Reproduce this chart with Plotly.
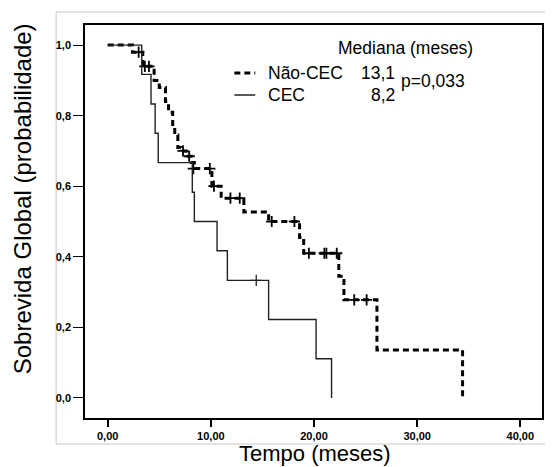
import plotly.graph_objects as go

# Kaplan-Meier steps: (event time, survival after the event)
nao_cec_times = [2.4, 3.4, 4.5, 5.0, 5.6, 5.9, 6.3, 6.5, 6.8, 7.1, 7.6, 8.1, 8.4,
                 10.1, 11.0, 13.2, 15.6, 18.6, 19.0, 22.4, 22.9, 26.1, 34.4]
nao_cec_surv = [0.98, 0.94, 0.90, 0.88, 0.84, 0.81, 0.77, 0.745, 0.71, 0.70, 0.685, 0.667, 0.65,
                0.60, 0.566, 0.527, 0.50, 0.455, 0.41, 0.345, 0.278, 0.136, 0.0]
nao_cec_cens_t = [3.0, 3.6, 4.0, 7.3, 7.9, 8.3, 9.9, 10.3, 11.9, 12.8, 15.9, 18.1,
                  19.5, 21.0, 21.2, 22.2, 23.9, 25.1]
nao_cec_cens_s = [0.98, 0.94, 0.94, 0.70, 0.685, 0.65, 0.65, 0.60, 0.566, 0.566, 0.50, 0.50,
                  0.41, 0.41, 0.41, 0.41, 0.278, 0.278]

cec_times = [3.3, 4.2, 4.6, 4.9, 8.2, 8.4, 10.6, 11.6, 15.6, 20.2, 21.7]
cec_surv = [0.917, 0.833, 0.75, 0.667, 0.583, 0.5, 0.417, 0.333, 0.222, 0.111, 0.0]
cec_cens_t = [14.4]
cec_cens_s = [0.333]

groups = ['Não-CEC', 'CEC']
medians = ['13,1', '8,2']
p_value = 'p=0,033'

x_ticks = [0, 10, 20, 30, 40]
x_ticktext = ['0,00', '10,00', '20,00', '30,00', '40,00']
y_ticks = [0, 0.2, 0.4, 0.6, 0.8, 1.0]
y_ticktext = ['0,0', '0,2', '0,4', '0,6', '0,8', '1,0']

# the page puts the figure 8px in from the top-left corner, so the figure is
# smaller than the window and everything below is laid out in window pixels
OFF = 8
W, H = 553 - OFF, 467 - OFF
L, R, T, B = 85 - OFF, 9, 25 - OFF, 49
FONT = 'Arial, Liberation Sans, sans-serif'


def px(x, y):
    # window pixel position -> paper coordinates
    x, y = x - OFF, y - OFF
    return (x - L) / (W - L - R), (H - B - y) / (H - T - B)


fig = go.Figure()

fig.add_trace(go.Scatter(x=[0] + nao_cec_times, y=[1.0] + nao_cec_surv, mode='lines',
                         line=dict(color='black', width=3, dash='6px,4px', shape='hv'),
                         name=groups[0]))
fig.add_trace(go.Scatter(x=nao_cec_cens_t, y=nao_cec_cens_s, mode='markers',
                         marker=dict(symbol='cross-thin', size=8, line=dict(color='black', width=1.8)),
                         showlegend=False))
fig.add_trace(go.Scatter(x=[0] + cec_times, y=[1.0] + cec_surv, mode='lines',
                         line=dict(color='#222222', width=1.4, shape='hv'),
                         name=groups[1]))
fig.add_trace(go.Scatter(x=cec_cens_t, y=cec_cens_s, mode='markers',
                         marker=dict(symbol='cross-thin', size=8, line=dict(color='#222222', width=1.3)),
                         showlegend=False))

fig.update_xaxes(range=[-2.2, 42.1], tickvals=x_ticks, ticktext=x_ticktext,
                 showline=True, linecolor='black', linewidth=1.5, mirror=True,
                 ticks='outside', ticklen=7, tickwidth=2.2, tickcolor='black',
                 showgrid=False, zeroline=False,
                 tickfont=dict(family=FONT, size=11, color='black', weight='bold'))
fig.update_yaxes(range=[-0.057, 1.057], tickvals=y_ticks, ticktext=y_ticktext,
                 showline=True, linecolor='black', linewidth=1.5, mirror=True,
                 ticks='outside', ticklen=10, tickwidth=1.2, tickcolor='black',
                 showgrid=False, zeroline=False,
                 tickfont=dict(family=FONT, size=11, color='black', weight='bold'))

annotations = []
shapes = []

# outer grey chart frame
x0, y0 = px(56, 444)
x1, y1 = px(560, 12)
shapes.append(dict(type='rect', xref='paper', yref='paper', x0=x0, y0=y0, x1=x1, y1=y1,
                   line=dict(color='#c8c8c8', width=1), layer='below'))

# legend block
ax, ay = px(337, 48)
annotations.append(dict(text='Mediana (meses)', x=ax, y=ay, xanchor='left', yanchor='middle'))
styles = [dict(color='black', width=3, dash='6px,4px'), dict(color='#222222', width=1.5)]
for i, (g, m) in enumerate(zip(groups, medians)):
    yy = 73 + 22 * i
    lx0, ly = px(235, yy)
    lx1, _ = px(256, yy)
    shapes.append(dict(type='line', xref='paper', yref='paper', x0=lx0, x1=lx1, y0=ly, y1=ly,
                       line=styles[i]))
    tx, ty = px(267, yy)
    annotations.append(dict(text=g, x=tx, y=ty, xanchor='left', yanchor='middle'))
    mx, my = px(398, yy)
    annotations.append(dict(text=m, x=mx, y=my, xanchor='right', yanchor='middle'))
pxx, pyy = px(400, 81)
annotations.append(dict(text=p_value, x=pxx, y=pyy, xanchor='left', yanchor='middle'))

# axis titles
tx, ty = px(316, 453)
annotations.append(dict(text='Tempo (meses)', x=tx, y=ty, xanchor='center', yanchor='middle',
                        font=dict(family=FONT, size=22, color='black')))
tx, ty = px(23, 199)
annotations.append(dict(text='Sobrevida Global (probabilidade)', x=tx, y=ty, textangle=-90,
                        xanchor='center', yanchor='middle',
                        font=dict(family=FONT, size=24, color='black')))

for a in annotations:
    a.setdefault('font', dict(family=FONT, size=17.5, color='black'))
    a.update(xref='paper', yref='paper', showarrow=False)

fig.update_layout(width=W, height=H, margin=dict(l=L, r=R, t=T, b=B),
                  paper_bgcolor='white', plot_bgcolor='white', showlegend=False,
                  annotations=annotations, shapes=shapes)

fig.write_html('out.html')
